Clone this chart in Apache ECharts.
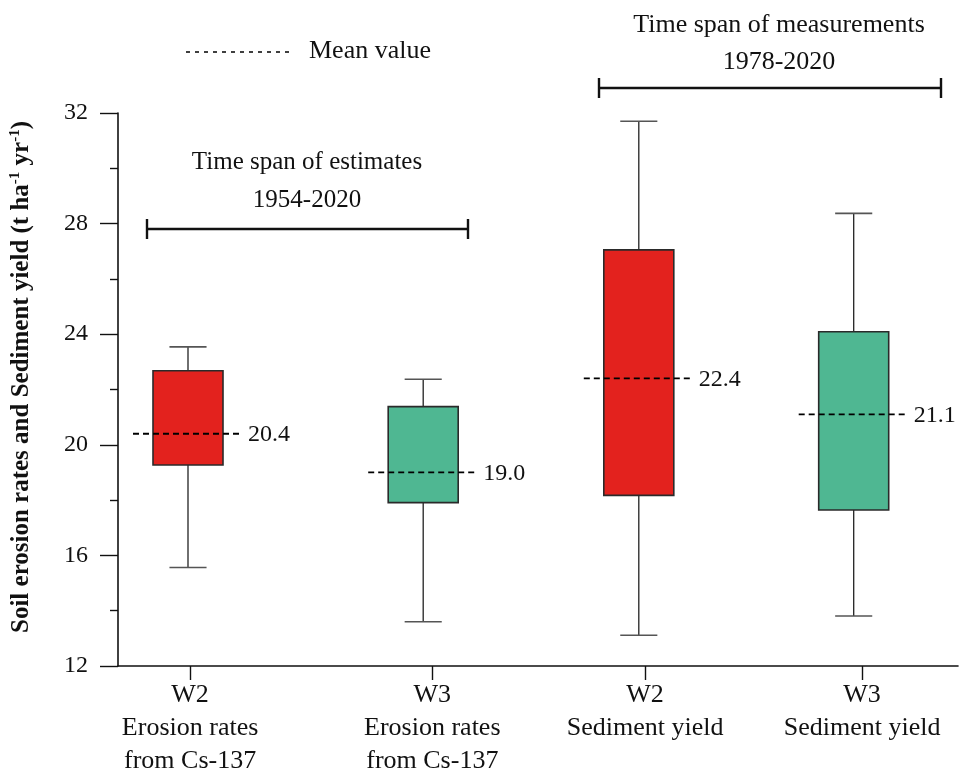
<!DOCTYPE html>
<html>
<head>
<meta charset="utf-8">
<script src="https://cdn.jsdelivr.net/npm/echarts@6/dist/echarts.min.js"></script>
<style>
  html, body { margin: 0; padding: 0; background: #fff; }
  #chart { width: 962px; height: 770px; }
</style>
</head>
<body>
<div id="chart"></div>
<script>
// Catchment groups along the x axis
const groupNames = ['W2', 'W3', 'W2', 'W3'];
const groupSubtitles = ['Erosion rates\nfrom Cs-137', 'Erosion rates\nfrom Cs-137', 'Sediment yield', 'Sediment yield'];
const groupPositions = [1, 4.36, 7.44, 10.51];   // box centres
const labelPositions = [1.03, 4.49, 7.53, 10.63]; // axis ticks / category labels

// Box statistics (t ha-1 yr-1)
const whiskerLow  = [15.56, 13.60, 13.11, 13.81];
const boxLow      = [19.27, 17.91, 18.17, 17.64];
const boxHigh     = [22.68, 21.38, 27.05, 24.09];
const whiskerHigh = [23.54, 22.37, 31.70, 28.37];
const meanValues  = [20.4, 19.0, 22.4, 21.1];
const boxColors   = ['#E3221E', '#4FB792', '#E3221E', '#4FB792'];

// Value axis ticks
const yMin = 12, yMax = 32, yStep = 4;

const FONT = '"Liberation Serif", "Times New Roman", serif';
const TXT = '#111';

const boxData = groupPositions.map((x, i) => [x, whiskerLow[i], boxLow[i], boxHigh[i], whiskerHigh[i], meanValues[i], i]);

const chart = echarts.init(document.getElementById('chart'), null, { renderer: 'canvas' });

function renderBox(params, api) {
  const x = api.value(0);
  const idx = api.value(6);
  const unit = api.size([1, 0])[0];
  const halfBox = unit * 0.5;
  const halfCap = unit * 0.265;
  const halfMean = halfBox + 20;
  const pMin = api.coord([x, api.value(1)]);
  const pQ1 = api.coord([x, api.value(2)]);
  const pQ3 = api.coord([x, api.value(3)]);
  const pMax = api.coord([x, api.value(4)]);
  const pMean = api.coord([x, api.value(5)]);
  const cx = pMin[0];
  const whisker = { stroke: '#222', lineWidth: 1.3 };
  const cap = { stroke: '#555', lineWidth: 1.6 };
  return {
    type: 'group',
    children: [
      { type: 'line', shape: { x1: cx, y1: pMax[1], x2: cx, y2: pQ3[1] }, style: whisker },
      { type: 'line', shape: { x1: cx, y1: pQ1[1], x2: cx, y2: pMin[1] }, style: whisker },
      { type: 'line', shape: { x1: cx - halfCap, y1: pMax[1], x2: cx + halfCap, y2: pMax[1] }, style: cap },
      { type: 'line', shape: { x1: cx - halfCap, y1: pMin[1], x2: cx + halfCap, y2: pMin[1] }, style: cap },
      {
        type: 'rect',
        shape: { x: cx - halfBox, y: pQ3[1], width: halfBox * 2, height: pQ1[1] - pQ3[1] },
        style: { fill: boxColors[idx], stroke: '#2a2a2a', lineWidth: 1.6 }
      },
      {
        type: 'line',
        shape: { x1: cx - halfMean, y1: pMean[1], x2: cx + halfMean, y2: pMean[1] },
        style: { stroke: '#000', lineWidth: 1.8, lineDash: [6, 4] }
      },
      {
        type: 'text',
        x: cx + halfMean + 5,
        y: pMean[1] + 1,
        style: {
          text: api.value(5).toFixed(1),
          font: '24px ' + FONT,
          fill: TXT,
          align: 'left',
          verticalAlign: 'middle'
        }
      }
    ]
  };
}

function bracket(x1, x2, y) {
  return [
    { type: 'line', shape: { x1: x1, y1: y, x2: x2, y2: y }, style: { stroke: '#111', lineWidth: 2.4 } },
    { type: 'line', shape: { x1: x1, y1: y - 10, x2: x1, y2: y + 10 }, style: { stroke: '#111', lineWidth: 2.4 } },
    { type: 'line', shape: { x1: x2, y1: y - 10, x2: x2, y2: y + 10 }, style: { stroke: '#111', lineWidth: 2.4 } }
  ];
}

function centeredText(text, x, y, size) {
  return {
    type: 'text', x: x, y: y,
    style: { text: text, font: (size || 26) + 'px ' + FONT, fill: TXT, align: 'center', verticalAlign: 'middle' }
  };
}

const option = {
  backgroundColor: '#fff',
  animation: false,
  grid: { left: 118, right: 4, top: 113, bottom: 104, outerBoundsMode: 'none', containLabel: false },
  xAxis: {
    type: 'value',
    min: 0,
    max: 12,
    splitLine: { show: false },
    axisLine: { show: true, onZero: false, lineStyle: { color: '#111', width: 1.6 } },
    axisTick: { show: true, customValues: labelPositions, length: 14, inside: false, lineStyle: { color: '#111', width: 1.4 } },
    axisLabel: {
      show: true,
      customValues: labelPositions,
      margin: 13,
      formatter: function (v) {
        const i = labelPositions.findIndex(p => Math.abs(p - v) < 1e-6);
        return i < 0 ? '' : groupNames[i] + '\n' + groupSubtitles[i];
      },
      fontFamily: FONT,
      fontSize: 26,
      lineHeight: 33,
      color: TXT,
      align: 'center',
      verticalAlign: 'top'
    }
  },
  yAxis: {
    type: 'value',
    min: yMin,
    max: yMax,
    interval: yStep,
    splitLine: { show: false },
    axisLine: { show: true, lineStyle: { color: '#111', width: 1.6 } },
    axisTick: { show: true, length: 18, inside: false, lineStyle: { color: '#111', width: 1.4 } },
    minorTick: { show: true, splitNumber: 2, length: 8, lineStyle: { color: '#111', width: 1.4 } },
    axisLabel: { margin: 30, fontFamily: FONT, fontSize: 24, color: TXT }
  },
  series: [{
    type: 'custom',
    renderItem: renderBox,
    data: boxData,
    encode: { x: 0, y: [1, 2, 3, 4, 5] },
    clip: false,
    z: 3
  }],
  graphic: [
    {
      type: 'text',
      x: 22,
      y: 377,
      rotation: Math.PI / 2,
      style: {
        text: 'Soil erosion rates and Sediment yield (t ha{sup|-1} yr{sup|-1})',
        font: 'bold 25px ' + FONT,
        fill: TXT,
        align: 'center',
        verticalAlign: 'middle',
        rich: {
          sup: { font: 'bold 15px ' + FONT, fill: TXT, verticalAlign: 'top', lineHeight: 28 }
        }
      }
    },
    // Legend for the mean line
    {
      type: 'line',
      shape: { x1: 186, y1: 52, x2: 293, y2: 52 },
      style: { stroke: '#000', lineWidth: 1.6, lineDash: [4, 5] }
    },
    {
      type: 'text', x: 309, y: 51,
      style: { text: 'Mean value', font: '26px ' + FONT, fill: TXT, align: 'left', verticalAlign: 'middle' }
    },
    // Measurement period
    centeredText('Time span of measurements', 779, 25),
    centeredText('1978-2020', 779, 62),
    ...bracket(599, 941, 88),
    // Estimate period
    centeredText('Time span of estimates', 307, 162, 25),
    centeredText('1954-2020', 307, 200, 25),
    ...bracket(147, 468, 229)
  ]
};

chart.setOption(option);
</script>
</body>
</html>
